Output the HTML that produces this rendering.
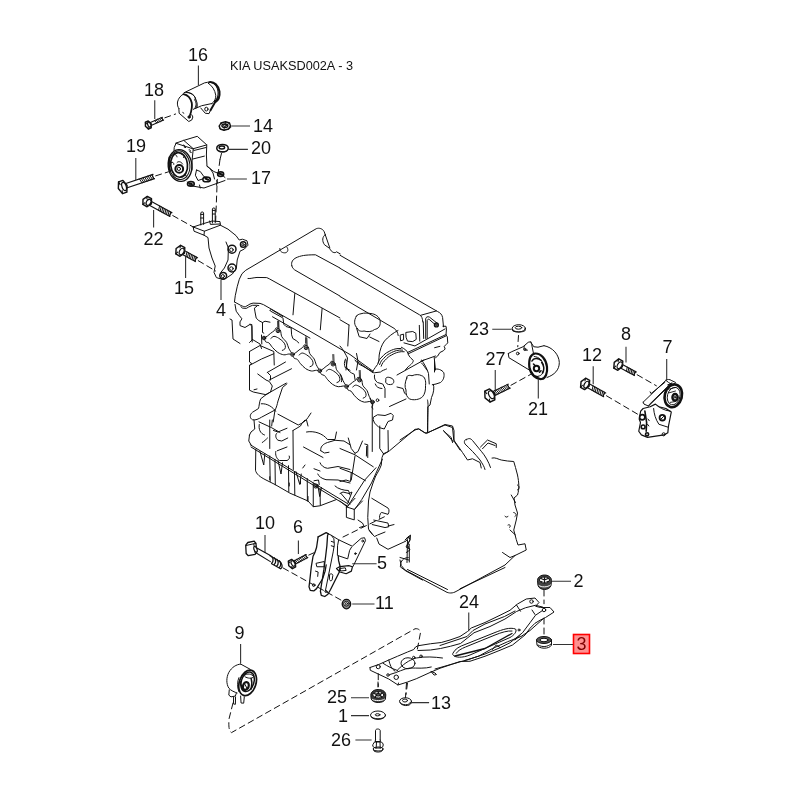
<!DOCTYPE html>
<html><head><meta charset="utf-8"><style>
html,body{margin:0;padding:0;background:#fff;width:800px;height:800px;overflow:hidden}
svg{position:absolute;left:0;top:0;will-change:transform}
.l path,.l ellipse,.l circle,.l polyline,.l polygon,.l line{fill:none;stroke:#111;stroke-width:1;vector-effect:non-scaling-stroke;stroke-linejoin:round;stroke-linecap:round}
.l .f{fill:#fff}
.d{stroke-dasharray:6 4}
.ld{stroke:#333;stroke-width:1.1;fill:none}
text{font-family:"Liberation Sans",sans-serif;fill:#111}
.n{font-size:18px}
</style></head><body>
<svg width="800" height="800" viewBox="0 0 800 800">
<!-- part 16 cylinder -->
<g class="l" transform="translate(170,75) scale(0.075)">
<path d="M190,235 L460,105 C490,98 510,95 525,95"/>
<path d="M525,95 C590,85 645,140 660,220 C668,290 640,340 600,365 L540,470" style="stroke-width:2"/>
<path d="M545,100 C600,110 635,160 642,230 C645,290 625,330 595,355" style="stroke-width:1.2"/>
<path d="M510,110 C560,140 600,200 610,270 C612,320 595,350 560,380"/>
<path d="M560,380 L420,410 L330,450"/>
<path d="M410,440 L470,510 L520,515 L540,470"/>
<ellipse cx="485" cy="455" rx="22" ry="25"/>
<path d="M190,235 C240,225 300,250 330,290 C355,330 360,390 340,430 L310,460"/>
<path d="M230,230 C280,235 320,260 335,300"/>
<path d="M335,320 C358,345 372,385 362,430 L345,440 C355,400 350,360 330,335 Z" style="fill:#999;stroke-width:0.8"/>
<path d="M180,255 C150,265 110,310 100,360 C95,400 105,430 118,445"/>
<path d="M180,255 C230,265 275,310 290,370 C300,420 290,470 265,540" style="stroke-width:1.8"/>
<path d="M118,445 L122,510 L250,620 L290,600 L305,560 L290,530"/>
<circle cx="255" cy="560" r="16" style="fill:#222"/>
<path d="M170,500 L185,510" />
</g>
<!-- part 18 bolt, 14 nut, 20 washer -->
<g class="l" transform="translate(140,110) scale(0.125)">
<path d="M634,128 L648,104 L684,94 L716,104 L724,128 L708,152 L672,162 L642,152 Z" class="f" style="stroke-width:1.4"/>
<path d="M634,128 L636,142 L642,152 M724,128 L726,140 L708,152"/>
<ellipse cx="679" cy="126" rx="24" ry="14" style="stroke-width:1.3"/>
<ellipse cx="679" cy="124" rx="12" ry="7"/>
<path d="M648,104 L660,116 M684,94 L682,112 M716,104 L700,116 M672,162 L674,140" style="stroke-width:0.9"/>
<ellipse cx="660" cy="305" rx="46" ry="30" style="stroke-width:1.5"/>
<ellipse cx="655" cy="300" rx="22" ry="12" style="stroke-width:1.4"/>
<path d="M618,318 C630,335 680,340 700,325"/>
<path class="d" d="M652,348 L640,395"/>
</g>
<g class="l">
<!-- bolt 22 -->
<path d="M148.43,204.78 L169.95,216.53 A0.99,2.20 28.6 0 1 172.05,212.67 L150.54,200.92" style="stroke-width:1.1"/>
<path d="M158.57,210.32 L159.63,205.88" style="stroke-width:0.9900000000000001"/>
<path d="M160.15,211.18 L161.20,206.74" style="stroke-width:0.9900000000000001"/>
<path d="M161.72,212.04 L162.78,207.60" style="stroke-width:0.9900000000000001"/>
<path d="M163.30,212.90 L164.35,208.46" style="stroke-width:0.9900000000000001"/>
<path d="M164.87,213.76 L165.93,209.32" style="stroke-width:0.9900000000000001"/>
<path d="M166.45,214.62 L167.50,210.18" style="stroke-width:0.9900000000000001"/>
<path d="M168.02,215.48 L169.08,211.04" style="stroke-width:0.9900000000000001"/>
<path d="M169.59,216.34 L170.65,211.90" style="stroke-width:0.9900000000000001"/>
<path d="M151.40,203.89 L147.10,206.78 L142.90,204.48 L143.00,199.31 L147.30,196.42 L151.50,198.72 Z" class="f" style="stroke-width:1.4300000000000002;stroke-linejoin:round"/>
<ellipse class="f" cx="148.57" cy="202.35" rx="2.18" ry="3.22" transform="rotate(28.6 148.57 202.35)" style="stroke-width:1.2100000000000002"/>
<path d="M142.90,204.48 L144.59,202.79" style="stroke-width:1.1"/>
<path d="M147.30,196.42 L146.79,198.76" style="stroke-width:1.1"/>
<path class="d" d="M172.76,215.56 L193.60,227.20"/>
<!-- bolt 19 -->
<path d="M125.79,188.33 L154.52,178.63 A1.01,2.25 -18.7 0 1 153.08,174.37 L124.35,184.07" style="stroke-width:1.1"/>
<path d="M142.03,182.85 L139.45,178.97" style="stroke-width:0.9900000000000001"/>
<path d="M143.76,182.27 L141.18,178.39" style="stroke-width:0.9900000000000001"/>
<path d="M145.49,181.68 L142.91,177.80" style="stroke-width:0.9900000000000001"/>
<path d="M147.22,181.10 L144.64,177.22" style="stroke-width:0.9900000000000001"/>
<path d="M148.95,180.51 L146.37,176.63" style="stroke-width:0.9900000000000001"/>
<path d="M150.68,179.93 L148.10,176.05" style="stroke-width:0.9900000000000001"/>
<path d="M152.41,179.34 L149.83,175.46" style="stroke-width:0.9900000000000001"/>
<path d="M154.14,178.76 L151.56,174.88" style="stroke-width:0.9900000000000001"/>
<path d="M127.06,185.53 L126.86,192.12 L122.50,193.59 L118.34,188.47 L118.54,181.88 L122.90,180.41 Z" class="f" style="stroke-width:1.4300000000000002;stroke-linejoin:round"/>
<ellipse class="f" cx="124.12" cy="186.52" rx="2.10" ry="4.34" transform="rotate(-18.7 124.12 186.52)" style="stroke-width:1.2100000000000002"/>
<path d="M122.50,193.59 L122.13,190.46" style="stroke-width:1.1"/>
<path d="M118.54,181.88 L120.15,184.60" style="stroke-width:1.1"/>
<path class="d" d="M155.69,175.86 L168.50,171.80"/>
<!-- bolt 18 -->
<path d="M150.46,125.70 L163.60,119.98 A0.68,1.50 -23.5 0 1 162.40,117.22 L149.26,122.95" style="stroke-width:1.1"/>
<path d="M156.80,122.94 L154.50,120.66" style="stroke-width:0.9900000000000001"/>
<path d="M158.41,122.24 L156.11,119.96" style="stroke-width:0.9900000000000001"/>
<path d="M160.02,121.54 L157.72,119.26" style="stroke-width:0.9900000000000001"/>
<path d="M161.62,120.84 L159.33,118.56" style="stroke-width:0.9900000000000001"/>
<path d="M163.23,120.13 L160.93,117.86" style="stroke-width:0.9900000000000001"/>
<path d="M151.17,123.75 L151.21,127.78 L148.35,129.03 L145.43,126.25 L145.39,122.22 L148.25,120.97 Z" class="f" style="stroke-width:1.4300000000000002;stroke-linejoin:round"/>
<ellipse class="f" cx="149.24" cy="124.59" rx="1.43" ry="2.60" transform="rotate(-23.5 149.24 124.59)" style="stroke-width:1.2100000000000002"/>
<path d="M148.35,129.03 L148.01,127.15" style="stroke-width:1.1"/>
<path d="M145.39,122.22 L146.53,123.75" style="stroke-width:1.1"/>
<path class="d" d="M164.83,117.80 L175.60,114.00"/>
<!-- bolt 15 -->
<path d="M181.52,253.98 L195.44,261.63 A0.99,2.20 28.8 0 1 197.56,257.77 L183.64,250.12" style="stroke-width:1.1"/>
<path d="M185.92,256.40 L186.99,251.96" style="stroke-width:0.9900000000000001"/>
<path d="M187.45,257.24 L188.52,252.80" style="stroke-width:0.9900000000000001"/>
<path d="M188.98,258.08 L190.05,253.64" style="stroke-width:0.9900000000000001"/>
<path d="M190.51,258.92 L191.57,254.48" style="stroke-width:0.9900000000000001"/>
<path d="M192.03,259.76 L193.10,255.32" style="stroke-width:0.9900000000000001"/>
<path d="M193.56,260.60 L194.63,256.16" style="stroke-width:0.9900000000000001"/>
<path d="M195.09,261.44 L196.16,257.00" style="stroke-width:0.9900000000000001"/>
<path d="M184.49,253.10 L180.01,256.29 L175.82,253.98 L176.11,248.50 L180.59,245.31 L184.78,247.62 Z" class="f" style="stroke-width:1.4300000000000002;stroke-linejoin:round"/>
<ellipse class="f" cx="181.67" cy="251.55" rx="2.18" ry="3.47" transform="rotate(28.8 181.67 251.55)" style="stroke-width:1.2100000000000002"/>
<path d="M175.82,253.98 L177.61,252.14" style="stroke-width:1.1"/>
<path d="M180.59,245.31 L179.99,247.81" style="stroke-width:1.1"/>
<path class="d" d="M198.25,260.66 L215.60,271.00"/>
<!-- bolt 27 -->
<path d="M493.37,396.22 L510.16,388.08 A0.99,2.20 -25.9 0 1 508.24,384.12 L491.45,392.26" style="stroke-width:1.1"/>
<path d="M496.15,394.87 L493.15,391.43" style="stroke-width:0.9900000000000001"/>
<path d="M497.67,394.13 L494.67,390.70" style="stroke-width:0.9900000000000001"/>
<path d="M499.18,393.40 L496.18,389.96" style="stroke-width:0.9900000000000001"/>
<path d="M500.70,392.66 L497.70,389.23" style="stroke-width:0.9900000000000001"/>
<path d="M502.22,391.93 L499.22,388.49" style="stroke-width:0.9900000000000001"/>
<path d="M503.73,391.19 L500.73,387.76" style="stroke-width:0.9900000000000001"/>
<path d="M505.25,390.46 L502.25,387.02" style="stroke-width:0.9900000000000001"/>
<path d="M506.77,389.72 L503.77,386.29" style="stroke-width:0.9900000000000001"/>
<path d="M508.28,388.99 L505.28,385.55" style="stroke-width:0.9900000000000001"/>
<path d="M509.80,388.25 L506.80,384.82" style="stroke-width:0.9900000000000001"/>
<path d="M494.60,393.17 L494.82,399.74 L490.02,402.07 L485.00,397.83 L484.78,391.26 L489.58,388.93 Z" class="f" style="stroke-width:1.4300000000000002;stroke-linejoin:round"/>
<ellipse class="f" cx="491.37" cy="394.74" rx="2.44" ry="4.22" transform="rotate(-25.9 491.37 394.74)" style="stroke-width:1.2100000000000002"/>
<path d="M490.02,402.07 L489.39,399.04" style="stroke-width:1.1"/>
<path d="M484.78,391.26 L486.77,393.63" style="stroke-width:1.1"/>
<path class="d" d="M511.00,385.23 L530.50,374.50"/>
<!-- bolt 12 -->
<path d="M586.24,386.99 L603.66,396.68 A0.97,2.15 29.1 0 1 605.74,392.92 L588.33,383.24" style="stroke-width:1.1"/>
<path d="M592.03,390.21 L593.07,385.87" style="stroke-width:0.9900000000000001"/>
<path d="M593.64,391.11 L594.68,386.77" style="stroke-width:0.9900000000000001"/>
<path d="M595.25,392.00 L596.29,387.66" style="stroke-width:0.9900000000000001"/>
<path d="M596.86,392.90 L597.90,388.56" style="stroke-width:0.9900000000000001"/>
<path d="M598.47,393.80 L599.51,389.46" style="stroke-width:0.9900000000000001"/>
<path d="M600.08,394.69 L601.12,390.35" style="stroke-width:0.9900000000000001"/>
<path d="M601.69,395.59 L602.74,391.25" style="stroke-width:0.9900000000000001"/>
<path d="M603.31,396.48 L604.35,392.14" style="stroke-width:0.9900000000000001"/>
<path d="M589.12,386.14 L584.58,389.57 L580.56,387.34 L581.08,381.66 L585.62,378.23 L589.64,380.46 Z" class="f" style="stroke-width:1.4300000000000002;stroke-linejoin:round"/>
<ellipse class="f" cx="586.41" cy="384.63" rx="2.10" ry="3.66" transform="rotate(29.1 586.41 384.63)" style="stroke-width:1.2100000000000002"/>
<path d="M580.56,387.34 L582.39,385.38" style="stroke-width:1.1"/>
<path d="M585.62,378.23 L584.92,380.82" style="stroke-width:1.1"/>
<path class="d" d="M606.45,395.77 L639.00,415.00"/>
<!-- bolt 8 -->
<path d="M619.55,367.55 L634.45,375.56 A0.90,2.00 28.3 0 1 636.35,372.04 L621.45,364.02" style="stroke-width:1.1"/>
<path d="M626.43,371.25 L627.27,367.15" style="stroke-width:0.9900000000000001"/>
<path d="M627.96,372.07 L628.80,367.98" style="stroke-width:0.9900000000000001"/>
<path d="M629.50,372.90 L630.34,368.80" style="stroke-width:0.9900000000000001"/>
<path d="M631.03,373.72 L631.87,369.63" style="stroke-width:0.9900000000000001"/>
<path d="M632.57,374.55 L633.40,370.46" style="stroke-width:0.9900000000000001"/>
<path d="M634.10,375.37 L634.94,371.28" style="stroke-width:0.9900000000000001"/>
<path d="M622.35,366.78 L617.86,370.28 L613.81,368.10 L614.25,362.42 L618.74,358.92 L622.79,361.10 Z" class="f" style="stroke-width:1.4300000000000002;stroke-linejoin:round"/>
<ellipse class="f" cx="619.62" cy="365.31" rx="2.10" ry="3.66" transform="rotate(28.3 619.62 365.31)" style="stroke-width:1.2100000000000002"/>
<path d="M613.81,368.10 L615.61,366.11" style="stroke-width:1.1"/>
<path d="M618.74,358.92 L618.08,361.52" style="stroke-width:1.1"/>
<path class="d" d="M637.16,374.75 L656.40,385.80"/>
<!-- bolt 6 -->
<path d="M294.59,564.60 L307.82,557.54 A0.79,1.75 -28.1 0 1 306.18,554.46 L292.94,561.51" style="stroke-width:1.1"/>
<path d="M297.85,562.86 L295.15,560.34" style="stroke-width:0.9900000000000001"/>
<path d="M299.46,562.01 L296.75,559.48" style="stroke-width:0.9900000000000001"/>
<path d="M301.06,561.15 L298.35,558.63" style="stroke-width:0.9900000000000001"/>
<path d="M302.66,560.30 L299.96,557.77" style="stroke-width:0.9900000000000001"/>
<path d="M304.26,559.44 L301.56,556.92" style="stroke-width:0.9900000000000001"/>
<path d="M305.87,558.59 L303.16,556.06" style="stroke-width:0.9900000000000001"/>
<path d="M307.47,557.73 L304.76,555.21" style="stroke-width:0.9900000000000001"/>
<path d="M295.25,562.27 L295.62,566.88 L292.37,568.61 L288.75,565.73 L288.38,561.12 L291.63,559.39 Z" class="f" style="stroke-width:1.4300000000000002;stroke-linejoin:round"/>
<ellipse class="f" cx="293.06" cy="563.44" rx="1.68" ry="2.98" transform="rotate(-28.1 293.06 563.44)" style="stroke-width:1.2100000000000002"/>
<path d="M292.37,568.61 L291.83,566.49" style="stroke-width:1.1"/>
<path d="M288.38,561.12 L289.84,562.75" style="stroke-width:1.1"/>
<path class="d" d="M308.76,555.06 L314.50,552.50"/>
</g>
<!-- 22 bolt, 15 bolt, part 4 bracket -->
<g class="l" transform="translate(100,180) scale(0.2)">
<!-- studs -->
<path d="M504,225 L504,165 C504,158 518,158 518,165 L518,222"/>
<path d="M504,172 L518,172 M504,190 L518,190"/>
<path d="M562,215 L562,145 C562,138 576,138 576,145 L576,212"/>
<path d="M562,152 L576,152 M562,170 L576,170"/>
<!-- plate -->
<path d="M466,235 L470,256 L520,276 L522,256 L466,235"/>
<path d="M466,235 L505,222 L560,205 L600,208 L602,226 L522,256"/>
<path d="M548,205 L552,222 L600,220"/>
<!-- main body -->
<path d="M520,276 L540,288 L545,340 L560,390 L576,430 L570,462 L582,488 L608,496 L632,490 L662,470 L682,440 L686,400 L700,356 L722,345 L740,326 L735,304 L712,296 L696,300 L680,278 L640,246 L602,226"/>
<path d="M630,310 L642,340 L640,400 L622,440 L604,462"/>
<circle cx="660" cy="346" r="20" style="stroke-width:1.5"/><circle cx="657" cy="349" r="9"/>
<circle cx="660" cy="440" r="20" style="stroke-width:1.5"/><circle cx="657" cy="443" r="9"/>
<circle cx="616" cy="479" r="17" style="stroke-width:1.5"/><circle cx="614" cy="481" r="8"/>
<circle cx="716" cy="323" r="14" style="stroke-width:1.4"/><circle cx="715" cy="324" r="6"/>
<path class="d" d="M578,210 L585,30"/>
</g>
<!-- part 17 mount -->
<g class="l" transform="translate(165,140) scale(0.075)">
<path d="M148,41 L250,5 L430,-49 L557,65 L377,116 Z"/>
<path d="M250,5 L377,116"/>
<path d="M148,41 L123,99 L120,140"/>
<path d="M377,116 L362,260 L360,400"/>
<path d="M557,65 L552,200 L560,350 L590,370"/>
<path d="M365,255 L525,215"/>
<path d="M385,140 L548,100"/>
<path d="M240,70 C255,60 270,75 255,95 L275,100 M320,130 C335,125 345,140 330,160 L350,165"/>
<ellipse cx="200" cy="340" rx="158" ry="212" transform="rotate(-6 200 340)" style="stroke-width:1.3"/>
<ellipse cx="194" cy="336" rx="138" ry="192" transform="rotate(-6 194 336)"/>
<ellipse cx="188" cy="332" rx="112" ry="165" transform="rotate(-6 188 332)" style="stroke-width:1.7"/>
<circle cx="190" cy="385" r="52" style="stroke-width:2"/>
<circle cx="185" cy="385" r="22"/>
<path d="M110,200 C130,185 155,195 160,225 M215,185 C240,190 255,210 250,235 M85,300 C100,290 120,300 118,325 M100,430 C115,440 130,460 120,480 M250,470 C270,460 290,470 292,495 M160,300 C175,280 215,285 235,320"/>
<path d="M60,230 C50,280 50,360 70,420" style="stroke-width:1.8"/>
<path d="M300,560 L345,610 L520,640 L800,540"/>
<path d="M560,350 L650,420 L760,465 L800,500"/>
<path d="M420,400 L405,470 L440,540 L500,520"/>
<path d="M420,400 L470,420 L520,490 L560,500"/>
<path d="M600,380 L640,440 L660,520"/>
<ellipse cx="345" cy="585" rx="45" ry="30" style="stroke-width:1.6"/>
<ellipse cx="555" cy="525" rx="50" ry="32" style="stroke-width:1.6"/>
<ellipse cx="742" cy="455" rx="40" ry="30" style="stroke-width:1.6"/>
<path d="M330,580 L360,590 M540,515 L575,530 M730,450 L760,460" style="stroke-width:2"/>
<path d="M460,600 L470,640 M690,540 L700,570"/>
</g>
<g class="l"><path class="d" d="M220,159.5 L216.3,187"/></g>
<!-- engine tile 1 -->
<g class="l" transform="translate(230,220) scale(0.15)">
<path d="M30,545 L35,505 L48,445 L62,395 L80,358 L105,335 L575,58 C595,50 618,58 628,78 L635,98"/>
<path d="M635,98 C615,110 612,140 630,165 L665,190 C675,215 700,225 710,212 L735,226"/>
<path d="M635,98 L665,185"/>
<path d="M332,190 C330,210 350,222 372,218 C388,212 390,195 380,182"/>
<path d="M412,305 C405,280 420,262 440,252 C470,238 500,232 570,232 L733,320"/>
<path d="M412,305 C415,320 425,330 440,338 L733,507"/>
<path d="M120,390 C140,392 150,385 180,383 L245,384 L262,392 L733,653"/>
<path d="M432,490 L420,632"/>
<path d="M614,590 L602,732"/>
</g>
<!-- below cover, left, source coords -->
<g class="l">
<path d="M234.4,301.9 L240.6,305.3 C243,306.5 244.5,306.8 245.6,306.6 C247.5,305.8 248.8,304.6 250,304 L253.1,303.1 L260,303.4 L263.4,304.6 L310,331.2 L350,354.5 L357,359.6 L373,371.2"/>
<path d="M240.8,306.6 L242.5,308.1 L246.3,308.4 L248.8,306.9 L252.5,305.3 L256.9,305.3 L258.8,305.6"/>
<path d="M270.2,310 L271.4,309.5 L283,316.6 L282.3,317.6 L270.7,311.2 Z"/>
<path d="M272.5,316.8 L310,338.1"/>
<path d="M357,361.3 L373,372.8"/>
<path d="M283,318.3 L283.8,324.3 L286,326.5 L291.2,328 L291.6,334.8 L292.8,338.5 L296.5,340.8 L298.8,343"/>
<path d="M235,304.4 L236.2,311.2 L239.4,315.6 L241.9,318.8 L240,321.9 L240,325.6 L245,327.5 L250,324.4 L251.9,326.2 L252.2,342"/>
<path d="M256.9,306.2 L254.4,308.1 L255,311.9 L256.2,318.1 L258.8,320.6 L262.5,322.5 L265,321.2 L270,322.2"/>
<path d="M262.5,322.5 L262.5,332.5 L263.8,333.1"/>
<path d="M278.1,321.2 L278.1,327.2"/>
<path d="M250,324.2 L251.9,324.6 L252,340 M230,319 L232,320 L233,339 L240,343.5"/>
<path d="M306,336.5 L305.8,343"/>
</g>
<!-- engine tile 2 -->
<g class="l" transform="translate(340,250) scale(0.15)">
<path d="M0,35 L650,410 C668,418 680,430 684,450 L690,512"/>
<path d="M0,122 L530,432 C545,440 550,455 552,480"/>
<path d="M0,310 L360,522 C378,535 385,550 388,570"/>
<path d="M0,465 L60,500"/>
<path d="M110,440 C90,470 95,505 115,520 C120,540 140,545 160,540 C185,548 215,545 230,530 C255,525 270,510 268,480 C270,455 245,430 215,425 C185,420 160,418 140,425 C125,428 115,432 110,440 Z"/>
<path d="M110,520 L128,578 L180,590 L200,560"/>
<path d="M198,580 L260,610"/>
<path d="M60,500 L52,640"/>
<path d="M0,640 C20,660 40,700 50,720 L40,800"/>
<path d="M110,690 L120,740 L110,800"/>
</g>
<path d="M388,570 L552,488"/>
<!-- cover right end (zoom 390,300 s .0875) -->
<g class="l" transform="translate(390,300) scale(0.0875)">
<path d="M350,175 L530,125"/>
<path d="M408,440 L408,215 C410,195 430,185 450,195 L535,262"/>
<path d="M425,440 L425,235 C428,222 438,215 448,222 L518,282"/>
<circle cx="530" cy="285" r="22" style="stroke-width:1.4"/><circle cx="530" cy="285" r="9"/>
<path d="M120,400 L155,390 L155,455 L125,465 Z"/>
<path d="M185,370 L260,360 L295,380 L300,450 L260,475 L200,470 L185,430 Z"/>
<path d="M335,290 L340,470 M380,250 L385,440"/>
<path d="M160,490 L285,525 L630,330"/>
<path d="M200,600 L640,395 M206,616 L645,408"/>
<path d="M605,300 L640,300 L645,330 L640,400 L655,420 L660,490 L640,510 L620,530 L630,560 L610,580 L570,600 L545,640 L520,660"/>
<path d="M510,545 L570,530"/>
<path d="M130,540 C170,560 200,580 210,620 C215,650 250,670 265,690 C270,710 240,740 210,760 L175,800"/>
<path d="M350,700 L520,640 M505,655 L520,800"/>
<path d="M360,720 C380,740 400,770 420,800"/>
</g>
<!-- cover front-right rounded corner (source coords) -->
<g class="l">
<path d="M398,330.5 C393,333 388,337 384.5,341 C381.5,345 380,350 379.2,355 C378.8,359 379.2,362 377.5,364.5 C376,366.5 374.5,368.5 373,371"/>
<path d="M378,363 C379,360 380.5,358 382,357 C384,354.5 386,353 388,352 C390.5,350.5 393,349.5 395,349 C397,348.5 399,348.3 401,348.5"/>
<path d="M379.6,364.6 C380.6,361.6 382.1,359.6 383.6,358.6 C385.6,356.1 387.6,354.6 389.6,353.6 C392.1,352.1 394.6,351.1 396.6,350.6 C398.6,350.1 400.6,349.9 402.6,350.1"/>
<path d="M381.2,366.2 C382.2,363.2 383.7,361.2 385.2,360.2 C387.2,357.7 389.2,356.2 391.2,355.2 C393.7,353.7 396.2,352.7 398.2,352.2 C400.2,351.7 402.2,351.5 404.2,351.7"/>
</g>
<!-- engine tile 3 -->
<g class="l" transform="translate(230,320) scale(0.15)">
<path d="M770,260 C760,280 760,300 770,320 L800,335"/>
<path d="M150,130 L200,160 L210,190"/>
<path d="M210,100 L212,160 M150,130 L130,150"/>
<!-- flange row -->
<!-- left block -->
<path d="M130,210 L200,170 L292,210 L295,300"/>
<path d="M130,210 L130,280 L145,290 L130,300 L130,468 L155,480 L240,498 L270,480 L282,440 L262,410 L240,400 L185,360"/>
<path d="M135,300 L210,260 L292,225"/>
<path d="M248,350 L370,280 M262,400 L410,325"/>
<path d="M270,400 L270,370 L250,350"/>
<path d="M160,465 L180,460"/>
<path d="M240,498 L205,525 C195,545 195,575 190,590 L150,615 C130,630 130,655 150,665 C170,670 190,660 210,648 L300,600 C310,585 315,560 320,540 L350,450 L380,425"/>
<path d="M300,600 L288,680"/>
<path d="M320,628 L455,700 C480,690 510,670 520,650 L540,620"/>
</g>
<!-- exhaust flanges -->
<g class="l">
<path d="M264.00,338.00 C264.59,337.66 266.40,336.75 267.51,335.96 C268.62,335.17 269.53,334.16 270.69,333.25 C271.84,332.35 273.49,331.42 274.43,330.53 C275.37,329.63 275.34,327.90 276.31,327.86 C277.29,327.83 279.37,328.85 280.29,330.32 C281.21,331.80 280.76,334.69 281.81,336.71 C282.86,338.72 285.43,340.49 286.58,342.40 C287.72,344.32 287.71,346.18 288.70,348.20 C289.69,350.21 291.87,353.45 292.50,354.50"/>
<path d="M264.00,338.00 C264.30,338.64 264.95,340.99 265.79,341.83 C266.64,342.67 267.95,342.08 269.05,343.01 C270.16,343.95 270.97,345.85 272.43,347.41 C273.88,348.98 275.90,351.18 277.79,352.42 C279.68,353.65 281.89,354.54 283.74,354.81 C285.59,355.07 287.44,354.05 288.90,354.00 C290.36,353.95 291.90,354.42 292.50,354.50"/>
<path d="M270.87,338.44 C271.39,338.09 272.72,336.40 274.01,336.35 C275.31,336.31 277.10,337.25 278.64,338.16 C280.19,339.08 282.17,340.59 283.29,341.84 C284.40,343.10 285.09,344.53 285.34,345.72 C285.60,346.90 285.34,348.18 284.83,348.95 C284.32,349.72 282.71,350.11 282.29,350.34"/>
<circle cx="278.07" cy="330.71" r="2.0" class="f"/><circle cx="278.07" cy="330.71" r="0.9"/>
<path d="M278.07,328.71 L277.77,321.21 M279.07,328.71 L278.77,321.21" style="stroke-width:0.8"/>
<path d="M292.50,354.50 C293.07,354.18 294.83,353.32 295.92,352.57 C297.00,351.82 297.89,350.86 299.02,350.00 C300.14,349.14 301.75,348.27 302.67,347.42 C303.59,346.57 303.58,344.90 304.52,344.88 C305.46,344.86 307.46,345.86 308.33,347.30 C309.19,348.73 308.73,351.52 309.71,353.48 C310.70,355.44 313.16,357.18 314.24,359.05 C315.32,360.91 315.29,362.71 316.21,364.66 C317.14,366.62 319.20,369.78 319.80,370.80"/>
<path d="M292.50,354.50 C292.78,355.12 293.38,357.40 294.18,358.22 C294.98,359.04 296.26,358.49 297.31,359.41 C298.37,360.32 299.13,362.17 300.51,363.70 C301.90,365.23 303.82,367.38 305.63,368.60 C307.43,369.81 309.55,370.70 311.34,370.98 C313.12,371.26 314.92,370.30 316.33,370.27 C317.74,370.24 319.22,370.71 319.80,370.80"/>
<path d="M299.12,355.01 C299.63,354.68 300.94,353.07 302.19,353.04 C303.44,353.01 305.15,353.95 306.63,354.85 C308.12,355.75 310.01,357.23 311.07,358.46 C312.13,359.69 312.77,361.08 313.00,362.23 C313.24,363.38 312.97,364.61 312.47,365.35 C311.97,366.08 310.41,366.43 309.99,366.65"/>
<circle cx="306.18" cy="347.65" r="2.0" class="f"/><circle cx="306.18" cy="347.65" r="0.9"/>
<path d="M306.18,345.65 L305.88,338.15 M307.18,345.65 L306.88,338.15" style="stroke-width:0.8"/>
<path d="M319.80,370.80 C320.35,370.48 322.06,369.64 323.11,368.90 C324.17,368.16 325.03,367.22 326.12,366.38 C327.21,365.53 328.77,364.67 329.66,363.84 C330.55,363.00 330.53,361.37 331.44,361.35 C332.36,361.32 334.32,362.29 335.17,363.68 C336.02,365.07 335.59,367.79 336.56,369.70 C337.53,371.60 339.94,373.28 341.01,375.09 C342.07,376.89 342.05,378.64 342.97,380.55 C343.88,382.45 345.91,385.51 346.50,386.50"/>
<path d="M319.80,370.80 C320.08,371.40 320.68,373.62 321.46,374.41 C322.25,375.21 323.49,374.67 324.52,375.55 C325.55,376.43 326.30,378.22 327.66,379.71 C329.02,381.19 330.91,383.28 332.68,384.45 C334.44,385.62 336.52,386.47 338.26,386.73 C340.00,386.99 341.74,386.05 343.12,386.01 C344.49,385.97 345.94,386.42 346.50,386.50"/>
<path d="M326.26,371.25 C326.75,370.93 328.01,369.35 329.23,369.32 C330.45,369.28 332.12,370.18 333.57,371.05 C335.02,371.92 336.87,373.35 337.92,374.54 C338.96,375.73 339.59,377.08 339.82,378.19 C340.06,379.31 339.81,380.51 339.32,381.23 C338.84,381.96 337.32,382.31 336.92,382.52"/>
<circle cx="333.08" cy="364.03" r="2.0" class="f"/><circle cx="333.08" cy="364.03" r="0.9"/>
<path d="M333.08,362.03 L332.78,354.53 M334.08,362.03 L333.78,354.53" style="stroke-width:0.8"/>
<path d="M346.50,386.50 C347.04,386.19 348.72,385.38 349.75,384.66 C350.78,383.95 351.63,383.03 352.70,382.21 C353.77,381.40 355.30,380.57 356.18,379.75 C357.05,378.94 357.04,377.35 357.94,377.33 C358.83,377.31 360.74,378.27 361.56,379.63 C362.39,381.00 361.95,383.66 362.88,385.52 C363.82,387.38 366.17,389.04 367.20,390.81 C368.23,392.59 368.20,394.30 369.08,396.16 C369.96,398.03 371.93,401.03 372.50,402.00"/>
<path d="M346.50,386.50 C346.77,387.09 347.34,389.26 348.10,390.04 C348.87,390.82 350.08,390.30 351.09,391.17 C352.09,392.04 352.81,393.79 354.13,395.25 C355.45,396.71 357.29,398.76 359.00,399.91 C360.72,401.07 362.74,401.91 364.44,402.18 C366.14,402.44 367.86,401.53 369.20,401.50 C370.54,401.47 371.95,401.92 372.50,402.00"/>
<path d="M352.81,386.98 C353.29,386.67 354.53,385.13 355.72,385.10 C356.91,385.08 358.55,385.96 359.96,386.82 C361.37,387.68 363.17,389.09 364.18,390.26 C365.19,391.43 365.80,392.75 366.02,393.84 C366.25,394.94 366.00,396.11 365.52,396.81 C365.04,397.51 363.55,397.85 363.16,398.06"/>
<circle cx="359.52" cy="379.97" r="2.0" class="f"/><circle cx="359.52" cy="379.97" r="0.9"/>
<path d="M359.52,377.97 L359.22,370.47 M360.52,377.97 L360.22,370.47" style="stroke-width:0.8"/>
<circle cx="264" cy="338" r="1.8" class="f"/><circle cx="264" cy="338" r="0.8"/>
<circle cx="292.5" cy="354.5" r="1.8" class="f"/><circle cx="292.5" cy="354.5" r="0.8"/>
<circle cx="319.8" cy="370.8" r="1.8" class="f"/><circle cx="319.8" cy="370.8" r="0.8"/>
<circle cx="346.5" cy="386.5" r="1.8" class="f"/><circle cx="346.5" cy="386.5" r="0.8"/>
<circle cx="372.5" cy="402" r="1.8" class="f"/><circle cx="372.5" cy="402" r="0.8"/>
</g>
<!-- engine tile 4 -->
<g class="l" transform="translate(340,360) scale(0.15)">
<path d="M40,0 L45,50 C50,70 70,85 95,95 L100,130"/>
<path d="M100,0 C110,20 130,30 150,40 L230,85 L270,80 C280,70 300,65 310,60"/>
<path d="M0,100 C10,110 15,130 10,145"/>
<path d="M200,255 C205,275 215,290 220,300 C210,310 210,320 220,325"/>
<circle cx="250" cy="268" r="9"/>
<path d="M215,290 L215,610"/>
<path d="M230,100 C225,120 235,140 250,150 L285,160 L300,190 L300,250"/>
<path d="M235,160 C240,180 260,190 280,190"/>
<path d="M225,380 L250,365 L300,370 L340,355 L355,370 L350,400 L320,410 L305,440 L295,460 L260,450 L230,420 L222,400 Z"/>
<path d="M305,130 C300,115 320,110 340,120 C360,125 365,150 350,160 C335,168 310,165 305,150 Z"/>
<path d="M330,310 L440,260"/>
<path d="M445,120 C440,105 460,98 480,105 C500,95 530,95 545,105 C565,110 575,140 570,170 C572,200 565,230 550,245 C530,265 490,270 465,260 C445,250 438,225 440,200 C430,180 432,150 445,120 Z"/>
<path d="M380,180 L420,190 L430,220 L440,230"/>
<path d="M380,100 L560,0"/>
<path d="M545,0 C560,25 580,55 590,90 L595,160"/>
<path d="M630,0 L630,80"/>
<path d="M630,62 C650,55 680,65 692,85 C698,110 690,135 670,150 L640,160 L615,165"/>
<path d="M622,162 C630,180 625,220 610,250 L600,300 L585,312 L585,485"/>
<path d="M290,630 L330,605 L500,462 L525,460 L575,490 L700,430 L750,440 L760,470 L760,540 L800,600"/>
<path d="M690,470 L755,545"/>
<path d="M100,640 L75,800"/>
</g>
<!-- engine tile 5 (oil pan) -->
<g class="l" transform="translate(230,420) scale(0.15)">
<path d="M135,165 L780,555"/>
<path d="M140,180 L780,572"/>
<path d="M172,195 L170,335 C175,360 200,380 240,400 L300,430 L400,488 L520,540 L555,578 L600,572 L710,530"/>
<path d="M555,420 L555,578"/>
<path d="M200,210 L225,300 L232,225 M320,270 L340,360 L350,285 M440,345 L465,430 L475,360 M585,430 L598,510 L610,450"/>
<path d="M265,240 L268,410 M300,262 L302,432 M390,305 L392,478 M430,345 L432,500 M515,390 L516,540 M520,510 L520,540 M600,455 L602,565"/>
<path d="M265,378 L265,398 M395,420 L395,440 M470,405 L470,425"/>
<circle cx="572" cy="440" r="14"/><circle cx="572" cy="440" r="6"/>
<path d="M560,405 L590,400 L595,430"/>
<path d="M130,100 L125,140 L140,165"/>
<path d="M160,0 L165,60 L140,80 L130,100"/>
<path d="M265,0 L265,190 M282,0 L278,40"/>
<path d="M195,30 C190,60 200,90 230,100 M215,150 C230,140 240,130 250,120"/>
<path d="M310,90 C300,100 305,125 320,135 L345,140 L385,120"/>
<path d="M320,80 L380,55 M290,70 L320,80"/>
<path d="M305,210 C300,230 310,260 330,270 L380,270 C395,265 400,250 395,240"/>
<path d="M315,205 L380,180"/>
<path d="M420,70 L422,330"/>
<path d="M420,70 L470,40 L480,20 L500,0"/>
<path d="M510,80 C560,70 620,90 650,130 L700,130 L710,80"/>
<path d="M490,180 L620,250"/>
<path d="M605,205 C600,180 620,160 650,150 L700,135 L760,140 L800,165"/>
<path d="M605,205 L630,220 L660,215"/>
<path d="M600,285 C605,300 625,320 650,322 L720,310 L800,330"/>
<path d="M585,360 C590,375 610,390 640,398 L720,400 L800,420"/>
<path d="M700,440 C720,460 760,470 790,470 L800,500"/>
<path d="M740,490 L800,560"/>
<path d="M485,320 L500,300 M560,325 L600,340"/>
<path d="M510,0 L520,40"/>
</g>
<!-- engine tile 6 (zoom 340,420 s .15) -->
<g class="l" transform="translate(340,420) scale(0.15)">
<path d="M265,40 L265,190 L290,225 M320,70 L322,210 L290,225"/>
<path d="M290,225 L280,250 L275,300 C265,330 250,350 235,380 L220,420 L200,480 L190,540 L185,650 L190,727 L215,762"/>
<path d="M240,318 L165,400 L50,578"/>
<path d="M282,262 L210,420 L145,530 L98,596"/>
<path d="M45,580 L95,596 L95,666 L45,650 Z M95,596 L150,540 M45,580 L100,522"/>
<path d="M0,190 L100,232 L222,312"/>
<path d="M0,322 L80,352 L170,405"/>
<path d="M55,120 L75,190 L100,222 M150,140 L120,210 L100,222"/>
<path d="M165,160 L185,165 L185,250 M178,175 L176,240"/>
<path d="M0,410 L40,400 L70,410 L75,350"/>
<path d="M0,490 L20,480 L60,490 L80,480 L50,560 M0,540 L45,578"/>
<path d="M212,522 L320,587 C330,597 328,617 320,629 L280,617 M275,617 C265,627 260,647 265,657"/>
<path d="M225,667 L320,687 L325,712 L300,717 L215,697 M320,707 L360,697"/>
<path d="M195,737 L230,777 L250,767 L300,747"/>
<path d="M120,667 L150,687 L160,707 L130,717"/>
<path d="M245,787 L260,827 L320,862 L440,807 L462,777"/>
<path d="M445,787 L470,767 L468,797 L450,827 L462,827 L460,857 L440,847 L450,827"/>
<path d="M462,857 L462,947"/>
<path d="M455,917 C430,917 410,932 405,957 L402,979 L440,1007 L550,1067"/>
</g>
<g class="l"><path class="d" d="M343,537 L386,516"/></g>
<!-- transmission -->
<g class="l" transform="translate(400,400) scale(0.25)">
<path d="M0,160 L60,120 L75,115 L100,132 L112,130 L180,100 L210,110 L215,160 L250,210 L270,240 L290,235 L320,250 L325,272"/>
<path d="M175,125 L205,150 L210,170"/>
<path d="M110,0 C115,20 110,50 110,130"/>
<path d="M265,160 C272,152 282,152 290,162 L325,205 C340,222 355,248 362,270"/>
<path d="M262,178 C280,195 300,215 320,240 C330,255 338,268 340,278"/>
<path d="M262,178 C254,172 256,158 266,157"/>
<path d="M322,188 L350,160 L385,175 L385,190 M330,195 L352,172 L380,182"/>
<path d="M368,232 C380,228 395,238 405,240 L430,244 L455,246 L462,270 L470,300 C476,330 478,355 470,380 L456,392 L460,420 L470,452 L465,480 L455,520 L465,558 L472,580 L500,575 L505,600 L460,622 L420,660 L220,768 C205,775 190,772 180,765 L20,680 L5,662 L0,640"/>
<path d="M30,678 L190,758 M240,755 L420,670"/>
<path d="M410,610 L440,630 L460,622"/>
<path d="M470,340 C480,345 478,355 470,360"/>
<path d="M445,380 L462,410 M455,450 C465,452 468,462 460,466"/>
<path d="M420,465 C425,470 430,470 432,465 M432,500 C440,495 445,505 438,510 M440,520 L462,540"/>
<path d="M20,560 L35,545 L40,560 L30,580 L40,600 L25,610 M30,560 L28,650 M0,630 L35,640"/>
</g>
<!-- 23 washer, 21 mount, 27 bolt -->
<g class="l" transform="translate(460,310) scale(0.15)">
<ellipse cx="392" cy="122" rx="44" ry="24"/>
<ellipse cx="390" cy="118" rx="22" ry="10"/>
<path d="M350,128 L352,140 C370,150 415,150 434,138 L436,122"/>
<path class="d" d="M390,170 L385,245"/>
<path d="M322,290 L345,278 L420,245 L455,215 L470,212 L492,245 L520,248 L560,238"/>
<path d="M322,290 L326,318 L470,405"/>
<path d="M430,240 C420,255 430,275 450,268"/>
<circle cx="385" cy="290" r="9"/>
<circle cx="432" cy="262" r="8"/>
<path d="M472,212 L478,230 L490,290"/>
<path d="M560,238 C620,248 660,300 662,350 C662,400 630,432 580,450"/>
<path d="M500,290 C540,288 575,330 580,380 C585,420 570,455 545,460 C510,465 470,430 462,380 C458,330 470,295 500,290 Z" style="stroke-width:2.2"/>
<path d="M495,310 C525,310 555,340 558,380 C560,415 545,440 525,440"/>
<circle cx="510" cy="390" r="18" style="stroke-width:2"/>
<path d="M480,340 C490,320 520,318 540,335 M475,410 C480,430 500,445 520,445 M545,350 C560,370 562,400 550,420 M490,360 L500,370 M530,415 L540,405" style="stroke-width:1.6"/>
<path d="M480,430 L500,445 L540,460"/>
</g>
<!-- 8,12 bolts, part 7 mount -->
<g class="l" transform="translate(570,320) scale(0.1625)">
</g>
<!-- 10 bolt, 6 bolt, 5 bracket, 11 nut -->
<g class="l" transform="translate(230,500) scale(0.2125)">
</g>
<!-- part 9 mount -->
<g class="l" transform="translate(210,640) scale(0.0875)">
<path d="M350,275 C300,280 250,310 215,370 C185,430 185,500 215,550 C240,580 280,595 310,605"/>
<path d="M350,275 L460,335"/>
<ellipse cx="430" cy="490" rx="95" ry="150" transform="rotate(18 430 490)" style="stroke-width:1.7"/>
<ellipse cx="430" cy="478" rx="72" ry="115" transform="rotate(18 430 478)" style="stroke-width:1.5"/>
<path d="M400,400 C420,380 480,385 500,420 C480,445 430,440 400,420"/>
<ellipse cx="410" cy="525" rx="32" ry="45" transform="rotate(18 410 525)" style="stroke-width:2.2"/>
<path d="M345,470 C350,520 370,560 400,580 M470,560 C480,520 480,470 470,440" style="stroke-width:1.4"/>
<path d="M395,500 L425,555"/>
<path d="M220,570 L215,630 L240,650 L290,640 L300,610"/>
<path d="M270,650 L268,730 L290,735 L292,650"/>
<path d="M350,640 L355,720 L385,722 L392,650"/>
<path d="M330,430 C310,470 310,550 330,590"/>
</g>
<!-- crossmember 24, nut 2, bushing 3, washer 13 -->
<g class="l" transform="translate(360,570) scale(0.25)">
<path d="M40,390 L75,378 L115,360 L150,345 L190,328 L215,318 L222,308 L232,303 L282,295 L325,290 L360,280 L400,266 L430,246 L445,232 L500,210 L560,181 L600,161 L630,136 L665,116 L700,112 L716,130 L702,145 L722,150 L760,150 L776,168 L764,176 L742,190 L720,201 L700,213 L680,233 L660,260 L610,300 L560,321 L500,345 L440,365 L400,366 L320,393 L280,410 L225,435 L190,448 L152,460"/>
<path d="M40,390 L41,401 L115,436 L152,460 L154,452"/>
<path d="M232,322 L282,320 L322,314 L362,305 L402,294 L456,251 L520,226 L580,196 L626,166 L662,151 L702,141 L730,148"/>
<path d="M300,396 L370,376 L440,356 L500,336 L560,311 L600,291 L650,251 L680,211 L702,181 L730,162"/>
<path d="M92,373 C110,385 130,395 150,402 M115,360 C120,380 125,395 140,405"/>
<path d="M150,400 C170,380 195,360 225,352 C260,345 300,348 330,352"/>
<path d="M120,418 C150,410 175,395 200,392 C230,392 260,395 285,388"/>
<ellipse cx="192" cy="373" rx="28" ry="22"/>
<path d="M372,332 C380,315 400,305 420,298 L540,250 C570,238 600,228 622,236 C630,245 615,262 600,270 L440,340 C410,352 380,352 372,340 Z"/>
<path d="M385,333 C392,322 405,315 422,308 L540,260 C565,250 590,242 608,244"/>
<circle cx="636" cy="240" r="4"/>
<path d="M734,194 L680,242 L644,266 L590,287 L530,314 L476,344 L420,362"/>
<path d="M380,344 L500,314 L608,254" style="stroke-width:1.3"/>
<path d="M320,302 L428,266 L452,242 L500,216 L578,186 L620,164"/>
<path d="M530,318 L545,300 L560,310 M620,280 L640,262"/>
<circle cx="73" cy="387" r="8"/><circle cx="112" cy="420" r="5"/><circle cx="145" cy="429" r="9"/>
<circle cx="686" cy="126" r="7"/><circle cx="736" cy="160" r="7"/>
<circle cx="215" cy="350" r="5"/><circle cx="244" cy="345" r="5"/>
<path d="M626,140 L642,165 M688,160 L700,178"/>
<path d="M285,406 L300,412 L306,418 L298,420 Z"/>
<path class="d" d="M73,415 L73,466 M190,452 L184,498"/>
<!-- nut 2 -->
<path d="M710,40 C710,28 725,20 738,20 C752,20 766,28 766,42 L764,62 C760,74 748,78 738,78 C726,78 714,72 712,62 Z" style="fill:#444"/>
<ellipse cx="738" cy="40" rx="20" ry="12" style="fill:#fff"/>
<path d="M724,34 L752,46 M752,34 L724,46 M738,30 L738,50" style="stroke-width:1.2"/>
<path d="M716,62 C725,70 750,70 762,60" style="stroke:#fff"/>
<path class="d" d="M736,80 L736,135"/>
<!-- bushing 3 -->
<path d="M706,280 L708,300 C714,316 758,318 766,300 L766,280" class="f"/>
<ellipse cx="736" cy="280" rx="30" ry="14" style="fill:#555"/>
<ellipse cx="736" cy="280" rx="16" ry="7" style="fill:#fff"/>
<path d="M712,300 C730,310 750,308 764,296"/>
<path class="d" d="M736,192 L736,262"/>
<!-- washer 13 -->
<ellipse cx="182" cy="525" rx="24" ry="14"/>
<ellipse cx="180" cy="522" rx="10" ry="6"/>
<path d="M160,530 C165,545 200,548 205,532"/>
<path class="d" d="M186,452 L182,510"/>
</g>
<!-- nut 25, washer 1, bolt 26 -->
<g class="l" transform="translate(350,680) scale(0.1)">
<path class="d" d="M280,20 L280,70"/>
<path d="M208,150 C208,115 245,95 282,95 C320,95 358,112 358,150 L354,190 C345,215 315,225 282,225 C248,225 218,212 212,190 Z" style="fill:#3a3a3a"/>
<ellipse cx="283" cy="148" rx="55" ry="32" style="fill:#fff"/>
<ellipse cx="283" cy="148" rx="24" ry="13" style="fill:#555"/>
<path d="M240,135 L262,142 M305,140 L330,130 M283,118 L283,134 M250,168 L265,156 M300,156 L318,170" style="stroke-width:1.3"/>
<path d="M225,195 C245,210 320,212 345,192" style="stroke:#fff"/>
<ellipse cx="280" cy="352" rx="75" ry="42"/>
<ellipse cx="276" cy="348" rx="24" ry="11"/>
<path d="M210,365 C230,395 330,398 350,365"/>
<path d="M255,600 L255,505 C255,485 300,485 302,505 L302,600"/>
<path d="M255,600 L250,615 L305,615 L302,600"/>
<path d="M232,640 L245,620 L315,620 L332,640 L330,665 L310,680 L250,680 L230,665 Z"/>
<ellipse cx="280" cy="690" rx="50" ry="20"/>
<path d="M235,690 L240,710 C260,725 310,725 325,705 L328,690"/>
<path d="M265,620 L262,680 M300,620 L302,680"/>
</g>
<!-- labels -->
<g class="lab">
<text class="n" x="188" y="61">16</text>
<text class="n" x="144" y="95.6">18</text>
<text class="n" x="253" y="132">14</text>
<text class="n" x="251" y="154.4">20</text>
<text class="n" x="251" y="184.4">17</text>
<text class="n" x="126" y="152.2">19</text>
<text class="n" x="143.5" y="245">22</text>
<text class="n" x="174" y="293.6">15</text>
<text class="n" x="216" y="316">4</text>
<text class="n" x="469" y="334.75">23</text>
<text class="n" x="485.5" y="364.75">27</text>
<text class="n" x="528" y="415">21</text>
<text class="n" x="621" y="340.3">8</text>
<text class="n" x="582" y="360.6">12</text>
<text class="n" x="662.5" y="353.3">7</text>
<text class="n" x="255" y="528.7">10</text>
<text class="n" x="293" y="533">6</text>
<text class="n" x="377" y="569">5</text>
<text class="n" x="375" y="609.4">11</text>
<text class="n" x="459" y="607.5">24</text>
<text class="n" x="234.5" y="639.25">9</text>
<text class="n" x="327" y="703.3">25</text>
<text class="n" x="338" y="722">1</text>
<text class="n" x="331" y="745.9">26</text>
<text class="n" x="431" y="708.5">13</text>
<text class="n" x="573.5" y="586.5">2</text>
<rect x="573.5" y="634.5" width="16" height="19" fill="#ff9090" stroke="#ff0000" stroke-width="1.6"/>
<text class="n" x="576.5" y="650" style="fill:#800000">3</text>
<text x="230" y="69.8" style="font-size:12px" textLength="123" lengthAdjust="spacingAndGlyphs">KIA USAKSD002A - 3</text>
</g>
<g class="ld">
<path d="M198.4,65.6 V85.3 M154.75,100.3 V119 M231.25,126 H250 M228.1,149.4 H247.9 M226.9,179 H246.9 M135.8,158 V180 M153.6,210 V227.6 M185.6,257 V278 M221,280 V300"/>
<path d="M492.25,329.2 H511.75 M495.25,370 V390.25 M538.3,379 V398.5 M593.2,366.3 V384.2 M626,346.8 V362.6 M666.7,359 V380"/>
<path d="M265,535 V553 M298.4,540.4 V554 M352.2,563.75 H376.6 M352.2,604 H374.5 M468.75,612.5 V631.25 M240.6,644 V663.6"/>
<path d="M351,697.75 H369 M351,715.6 H369 M355.4,740 H371.6 M409.6,702.6 H429.1 M552,581.2 H571 M553,644.5 H573"/>
</g>
<!-- bolt 10 custom, nut 11 -->
<g class="l" transform="translate(230,500) scale(0.2125)">
<path d="M120,222 L192,262 M118,246 L190,290" style="stroke-width:1.1"/>
<path d="M188,262 L232,288 C246,296 250,318 238,324 L196,300" class="f" style="stroke-width:1.2"/>
<path d="M196,266 C204,272 206,290 196,298 M208,272 C216,278 218,296 208,304 M220,279 C228,285 230,303 220,311 M232,286 C240,292 242,310 232,318" style="stroke-width:1.3"/>
<path d="M74,212 L84,200 L114,194 L122,204 L126,244 L118,256 L86,262 L76,252 Z" class="f" style="stroke-width:1.3"/>
<path d="M76,214 L112,206 L118,248 M112,206 L122,204"/>
<ellipse cx="120" cy="232" rx="7" ry="14" transform="rotate(-20 120 232)" class="f" style="stroke-width:1.2"/>
<path class="d" d="M250,320 L528,474"/>
<path d="M528,490 C528,476 538,468 548,468 C558,468 568,476 568,490 C568,502 558,512 548,512 C538,512 528,502 528,490 Z" style="fill:#888;stroke-width:1.3"/>
<ellipse cx="548" cy="488" rx="13" ry="11" style="fill:#fff"/>
<circle cx="548" cy="488" r="5"/>
</g>
<g class="l"><path class="d" d="M233,703 L229,719 C228.5,727 229,731 231.5,732.6 L415,628.8 C418,628.2 420.5,630 420.5,632.5 L419,640.5 L417,651"/></g>
<g class="l" transform="translate(230,370) scale(0.125)">
<path d="M290,195 L450,105"/>
<path d="M250,270 C300,265 345,300 365,330"/>
<path d="M232,415 L330,460 L400,500"/>
</g>
<!-- part 5 bracket (zoom 305,530 s .0875) -->
<g class="l" transform="translate(305,530) scale(0.0875)">
<path d="M150,78 L242,30 L268,44 L258,60 L250,180 L236,300 L216,450 L192,600 L176,700 L186,746 L226,760 L262,734 L292,680 L342,580 L392,480 L402,420 L384,350 L380,300" style="stroke-width:1.3"/>
<path d="M150,78 L132,200 L112,260 L92,300 L72,420 L52,600 L46,650 L60,690 L100,696 L132,670 L162,620 L200,560 L230,470 L242,400" style="stroke-width:1.3"/>
<path d="M268,44 L300,60 L330,100 L335,170 L322,250 L292,400 L262,550 L232,700"/>
<path d="M300,60 L385,112 L540,185 L642,95 L680,88 L692,120 L562,390 L546,420"/>
<path d="M385,112 L372,180 L370,290 L488,330 L510,232 L532,196"/>
<path d="M360,440 L400,418 L500,408 L542,420 L530,470 L470,500 L400,480 Z" style="stroke-width:1.2"/>
<path d="M402,440 L460,432 L470,462 L412,468 Z"/>
<circle cx="100" cy="630" r="15"/><circle cx="240" cy="702" r="12"/>
<path d="M285,505 C300,495 318,502 318,520 L310,570 C305,585 285,585 280,570 Z"/>
<circle cx="576" cy="270" r="9" style="fill:#333"/><circle cx="660" cy="126" r="11"/>
<path d="M130,380 L220,360 L220,420 L140,420 Z"/>
<path d="M120,470 L150,480 L145,530"/>
<path d="M300,130 L330,140 M300,180 L330,190"/>
</g>
<!-- part 7 (zoom 630,370 s .0875) -->
<g class="l" transform="translate(630,370) scale(0.0875)">
<path d="M150,368 L410,118 C430,104 455,106 470,118 L520,142"/>
<path d="M150,368 L160,390 L212,412 L470,160 L440,142 L410,118"/>
<path d="M212,412 L220,395 L470,150"/>
<path d="M230,250 L240,270 L400,140 M430,170 L480,150"/>
<ellipse cx="495" cy="295" rx="98" ry="132" transform="rotate(15 495 295)" style="stroke-width:2.6"/>
<ellipse cx="500" cy="298" rx="72" ry="102" transform="rotate(15 500 298)"/>
<ellipse cx="515" cy="312" rx="30" ry="38" style="stroke-width:2.4"/>
<circle cx="515" cy="312" r="10"/>
<path d="M440,220 L520,200 M450,260 L520,240 M460,370 L520,360" style="stroke-width:0.9"/>
<path d="M122,470 L105,560 L120,600 L100,700 L130,742 L200,770 L390,742 L432,718 L440,640 L472,480 L410,440 L330,420 L290,390 L230,420 L150,440 Z" style="stroke-width:1.2"/>
<path d="M270,440 C275,500 290,560 330,620 L430,652"/>
<path d="M330,420 L360,440 L410,460 L460,470"/>
<circle cx="370" cy="545" r="32" style="stroke-width:1.8"/><path d="M355,560 L385,530"/>
<circle cx="140" cy="540" r="30" style="stroke-width:1.6"/>
<circle cx="150" cy="650" r="22" style="stroke-width:1.6"/>
<circle cx="195" cy="735" r="18" style="stroke-width:1.6"/>
<circle cx="385" cy="735" r="18"/>
<path d="M170,470 L190,600 L185,700" style="stroke-width:1.6"/>
<path d="M205,560 L220,580 M200,620 L215,640" />
</g>
</svg></body></html>
